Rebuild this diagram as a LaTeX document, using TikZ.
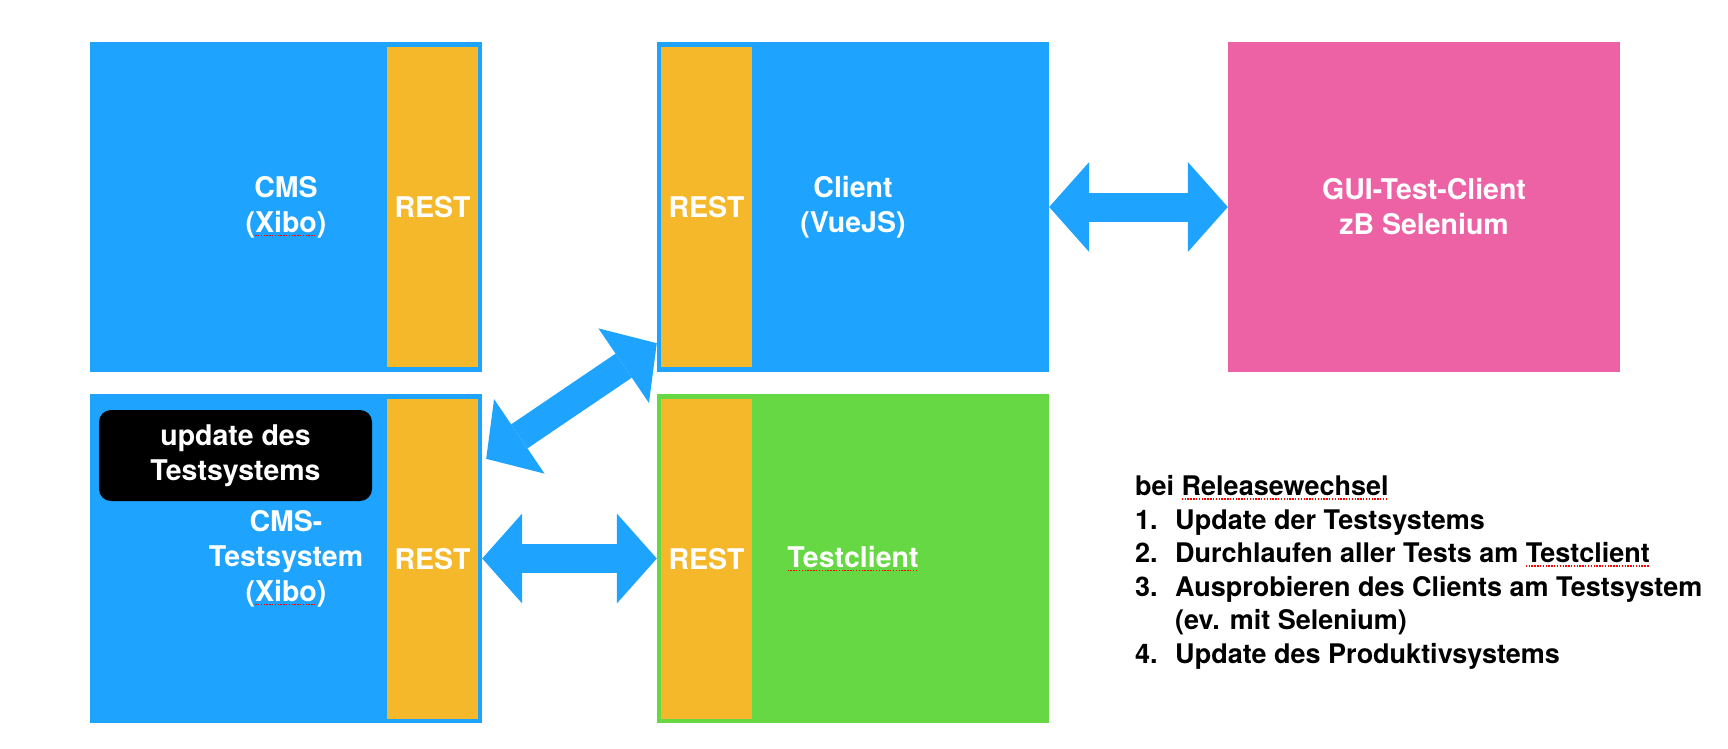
\documentclass[tikz,border=0pt]{standalone}
\usepackage{fontspec}
\setmainfont{TeX Gyre Heros}
\usetikzlibrary{arrows.meta,calc}
\definecolor{boxblue}{RGB}{30,164,254}
\definecolor{restorange}{RGB}{246,184,43}
\definecolor{testgreen}{RGB}{102,216,68}
\definecolor{guipink}{RGB}{236,98,165}
\newcommand\boxfont{\fontsize{28.5}{35}\selectfont\bfseries}
\newcommand\listfont{\fontsize{27}{33.5}\selectfont\bfseries}
\newcommand\spellmark[1]{\setbox0\hbox{#1}\rlap{\raisebox{-4pt}{\textcolor{red}{\hbox to \wd0{\xleaders\hbox to 2.8pt{\rule{1.4pt}{1.4pt}\hss}\hfill}}}}\box0}
\begin{document}
\begin{tikzpicture}[x=1pt,y=-1pt,
  every node/.style={inner sep=0pt,text=white,font=\boxfont},
  part/.style={rectangle,minimum width=392pt,minimum height=330pt,align=center},
  rest/.style={rectangle,fill=restorange,minimum width=91pt,minimum height=320pt},
  twoway/.style={draw=boxblue,line width=29pt,
    {Triangle[length=40pt,width=90pt,line width=0pt 0 0]}-{Triangle[length=40pt,width=90pt,line width=0pt 0 0]}}]
\useasboundingbox (0,0) rectangle (1728,748);
\node[part,fill=boxblue] (cms) at (286,207) {CMS\\(\spellmark{Xibo})};
\node[rest] (cmsrest) at (432.5,207) {REST};
\node[part,fill=boxblue] (client) at (853,207) {Client\\(VueJS)};
\node[rest] (clientrest) at (706.5,207) {REST};
\node[part,fill=guipink] (gui) at (1424,207) {GUI-Test-Client\\zB Selenium};
\node[part,fill=boxblue,minimum height=329pt] (cmstest) at (286,558.5) {CMS-\\Testsystem\\(\spellmark{Xibo})};
\node[rest] (testrest) at (432.5,559) {REST};
\node[part,fill=testgreen,minimum height=329pt] (testclient) at (853,558.5) {\spellmark{Testclient}};
\node[rest] (tcrest) at (706.5,559) {REST};
\node[fill=black,rounded corners=12pt,minimum width=273pt,minimum height=91pt,align=center] (note) at (235.5,455.5) {update des\\Testsystems};
\draw[twoway] (client.east) -- (gui.west);
\draw[twoway] (cmstest.east) -- (testclient.west);
\coordinate (diaglow) at ($(cmstest.north east)+(4,65)$);
\coordinate (diagup) at ($(client.south west)+(0,-29)$);
\draw[twoway] (diaglow) -- (diagup);
\node[anchor=north west,text=black,font=\listfont,align=left] (steps) at (1135,475.5) {bei \spellmark{Releasewechsel}\\
\makebox[40pt][l]{1.}Update der Testsystems\\
\makebox[40pt][l]{2.}Durchlaufen aller Tests am \spellmark{Testclient}\\
\makebox[40pt][l]{3.}Ausprobieren des Clients am Testsystem\\
\hspace*{40pt}(ev. mit Selenium)\\
\makebox[40pt][l]{4.}Update des Produktivsystems};
\end{tikzpicture}
\end{document}
